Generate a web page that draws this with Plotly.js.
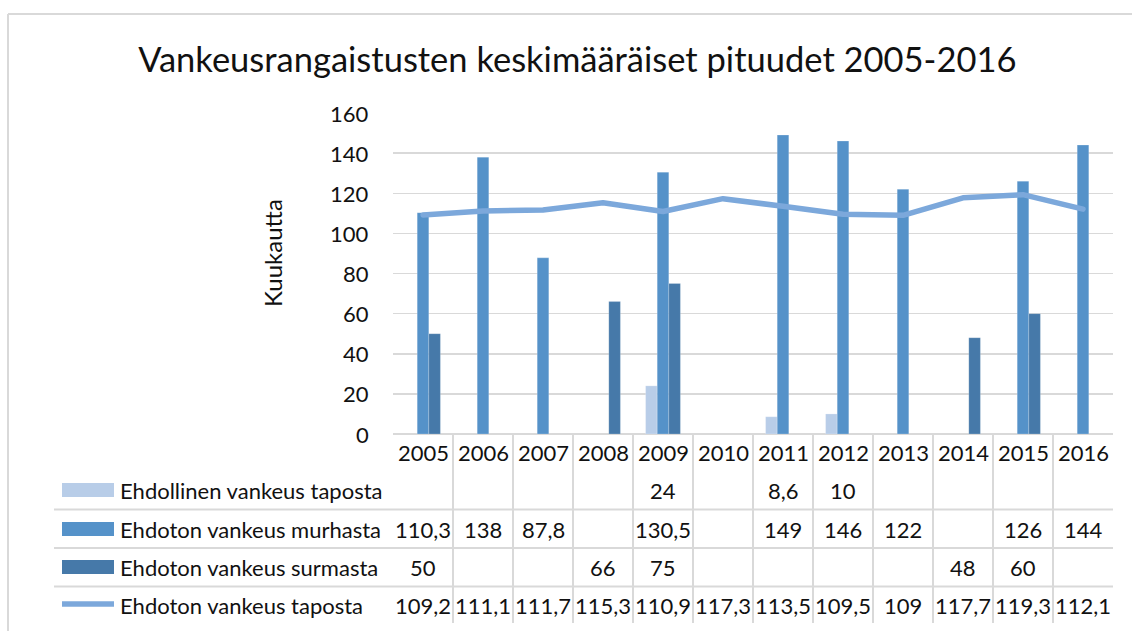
<!DOCTYPE html>
<html>
<head>
<meta charset="utf-8">
<script src="https://cdn.plot.ly/plotly-3.0.1.min.js"></script>
<style>
html,body{margin:0;padding:0;background:#fff;}
#chart{width:1132px;height:631px;}
.scatterlayer .js-line{stroke-linecap:round;stroke-linejoin:round;}
</style>
</head>
<body>
<div id="chart"></div>
<script>
const years = ['2005','2006','2007','2008','2009','2010','2011','2012','2013','2014','2015','2016'];
const seriesNames = ['Ehdollinen vankeus taposta','Ehdoton vankeus murhasta','Ehdoton vankeus surmasta','Ehdoton vankeus taposta'];
const ehdollinenTaposta = [null,null,null,null,24,null,8.6,10,null,null,null,null];
const ehdotonMurhasta = [110.3,138,87.8,null,130.5,null,149,146,122,null,126,144];
const ehdotonSurmasta = [50,null,null,66,75,null,null,null,null,48,60,null];
const ehdotonTaposta = [109.2,111.1,111.7,115.3,110.9,117.3,113.5,109.5,109,117.7,119.3,112.1];
const yTicks = [0,20,40,60,80,100,120,140,160];

const colors = ['#B8CDE8','#5592C9','#4679A9','#7CA8DB'];
const FONT = 'Lato, "Open Sans", sans-serif';
const TXT = '#111';
const FS = 22;

// plot area in pixels
const L = 393, R = 1113, T = 113, B = 434;
const px = x => (x - L) / (R - L);
const py = y => (B - y) / (B - T);
const fmt = v => (v === null || v === undefined) ? '' : String(v).replace('.', ',');

const traces = [
  {type:'bar', x:years, y:ehdollinenTaposta, name:seriesNames[0], marker:{color:colors[0], line:{color:'rgba(255,255,255,0.35)', width:0.6}}, hoverinfo:'skip'},
  {type:'bar', x:years, y:ehdotonMurhasta, name:seriesNames[1], marker:{color:colors[1], line:{color:'rgba(255,255,255,0.35)', width:0.6}}, hoverinfo:'skip'},
  {type:'bar', x:years, y:ehdotonSurmasta, name:seriesNames[2], marker:{color:colors[2], line:{color:'rgba(255,255,255,0.35)', width:0.6}}, hoverinfo:'skip'},
  {type:'scatter', mode:'lines', x:years, y:ehdotonTaposta, name:seriesNames[3], line:{color:colors[3], width:5.5}, hoverinfo:'skip'}
];

const annotations = [];
const shapes = [];

// chart border (top and left)
shapes.push({type:'line', xref:'paper', yref:'paper', x0:px(8), x1:px(1140), y0:py(14), y1:py(14), line:{color:'#d9d9d9', width:2}});
shapes.push({type:'line', xref:'paper', yref:'paper', x0:px(8), x1:px(8), y0:py(14), y1:py(640), line:{color:'#d9d9d9', width:2}});

// Y axis title
annotations.push({xref:'paper', yref:'paper', x:px(272), y:py(253), text:'Kuukautta', textangle:-90, showarrow:false, font:{family:FONT, size:24, color:TXT}, xanchor:'center', yanchor:'middle'});

// Y tick labels
yTicks.forEach(v => {
  annotations.push({xref:'paper', yref:'y', x:px(371), y:v, text:String(v), showarrow:false, xanchor:'right', yanchor:'middle', font:{family:FONT, size:FS, color:TXT}});
});

// Data table: year header
const rowY = [490, 529, 567, 605];
years.forEach((yr, i) => {
  annotations.push({xref:'x', yref:'paper', x:i, y:py(453), text:yr, showarrow:false, xanchor:'center', yanchor:'middle', font:{family:FONT, size:FS, color:TXT}});
});

// table rows
const rows = [ehdollinenTaposta, ehdotonMurhasta, ehdotonSurmasta, ehdotonTaposta];
rows.forEach((arr, r) => {
  annotations.push({xref:'paper', yref:'paper', x:px(118), y:py(rowY[r]), text:seriesNames[r], showarrow:false, xanchor:'left', yanchor:'middle', font:{family:FONT, size:FS, color:TXT}});
  arr.forEach((v, i) => {
    if (v === null) return;
    annotations.push({xref:'x', yref:'paper', x:i, y:py(rowY[r]), text:fmt(v), showarrow:false, xanchor:'center', yanchor:'middle', font:{family:FONT, size:FS, color:TXT}});
  });
  // legend key
  if (r < 3) {
    shapes.push({type:'rect', xref:'paper', yref:'paper', x0:px(62), x1:px(114), y0:py(rowY[r]-7), y1:py(rowY[r]+7), fillcolor:colors[r], line:{width:0}});
  } else {
    shapes.push({type:'line', xref:'paper', yref:'paper', x0:px(62), x1:px(114), y0:py(rowY[r]-1), y1:py(rowY[r]-1), line:{color:colors[r], width:5.5}});
  }
});

// table horizontal lines
[509.5, 548, 586.5].forEach(y => {
  shapes.push({type:'line', xref:'paper', yref:'paper', x0:px(54), x1:px(1113), y0:py(y), y1:py(y), line:{color:'#d9d9d9', width:2}});
});
// table vertical lines (between year columns)
for (let i = 1; i < years.length; i++) {
  const x = L + i * (R - L) / years.length;
  shapes.push({type:'line', xref:'paper', yref:'paper', x0:px(x), x1:px(x), y0:py(435), y1:py(623), line:{color:'#d9d9d9', width:2}});
}

const layout = {
  width:1132, height:631,
  margin:{l:L, r:1132-R, t:T, b:631-B, pad:0},
  paper_bgcolor:'#fff', plot_bgcolor:'#fff',
  title:{text:'Vankeusrangaistusten keskimääräiset pituudet 2005-2016', font:{family:FONT, size:34.5, color:TXT}, x:0.51, xanchor:'center', y:1-60/631, yanchor:'middle'},
  showlegend:false,
  barmode:'group', bargap:0.42, bargroupgap:0,
  xaxis:{type:'category', categoryorder:'array', categoryarray:years, range:[-0.5, 11.5], autorange:false, showticklabels:false, ticks:'', showgrid:false, zeroline:false, showline:false, fixedrange:true},
  yaxis:{range:[0,160], autorange:false, tickvals:yTicks, showticklabels:false, ticks:'', showgrid:true, gridcolor:'#d9d9d9', gridwidth:1.5, zeroline:true, zerolinecolor:'#d9d9d9', zerolinewidth:2, showline:false, fixedrange:true},
  annotations:annotations,
  shapes:shapes,
  hovermode:false
};

Plotly.newPlot('chart', traces, layout, {displayModeBar:false, staticPlot:true});
</script>
</body>
</html>
